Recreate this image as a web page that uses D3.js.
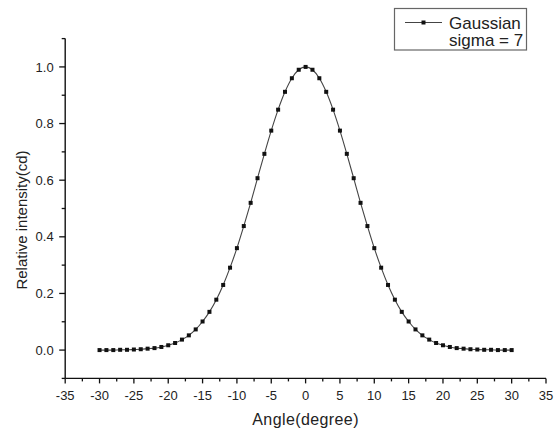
<!DOCTYPE html>
<html>
<head>
<meta charset="utf-8">
<script src="https://cdn.jsdelivr.net/npm/d3@7"></script>
<style>
  html, body { margin: 0; padding: 0; background: #fff; }
  svg { display: block; font-family: Arial, "Liberation Sans", sans-serif; }
</style>
</head>
<body>
<svg id="chart" width="554" height="431"></svg>
<script>
// ---- data ----
const angles = [-30,-29,-28,-27,-26,-25,-24,-23,-22,-21,-20,-19,-18,-17,-16,-15,-14,-13,-12,-11,-10,-9,-8,-7,-6,-5,-4,-3,-2,-1,
  0,1,2,3,4,5,6,7,8,9,10,11,12,13,14,15,16,17,18,19,20,21,22,23,24,25,26,27,28,29,30];
const intensity = [0.000,0.000,0.000,0.001,0.001,0.002,0.003,0.005,0.007,0.011,0.017,0.025,0.037,0.052,0.073,0.101,0.135,0.178,0.230,0.291,
  0.360,0.438,0.520,0.607,0.693,0.775,0.849,0.912,0.960,0.990,
  1.000,
  0.990,0.960,0.912,0.849,0.775,0.693,0.607,0.520,0.438,0.360,
  0.291,0.230,0.178,0.135,0.101,0.073,0.052,0.037,0.025,0.017,0.011,0.007,0.005,0.003,0.002,0.001,0.001,0.000,0.000,0.000];
const xTicks = [-35,-30,-25,-20,-15,-10,-5,0,5,10,15,20,25,30,35];
const yTicks = [0.0,0.2,0.4,0.6,0.8,1.0];
const seriesName = ["Gaussian", "sigma = 7"];
const xTitle = "Angle(degree)";
const yTitle = "Relative intensity(cd)";

const data = angles.map((a, i) => ({x: a, y: intensity[i]}));

// ---- layout ----
const svg = d3.select("#chart");
const x = d3.scaleLinear().domain([-35, 35]).range([65.2, 546]);
const y = d3.scaleLinear().domain([-0.1, 1.1]).range([378.4, 38.6]);

// x axis
const xMinor = d3.range(-35, 35.01, 2.5);
const gx = svg.append("g").attr("transform", `translate(0,${y(-0.1)})`);
gx.append("line").attr("x1", x(-35)).attr("x2", x(35)).attr("stroke", "#111").attr("stroke-width", 1.4);
gx.selectAll("line.minor").data(xMinor).join("line").attr("class", "minor")
  .attr("x1", d => x(d)).attr("x2", d => x(d)).attr("y1", 0)
  .attr("y2", d => (Math.abs(d % 5) < 1e-9 ? 5 : 3))
  .attr("stroke", "#111").attr("stroke-width", 1.3);
gx.selectAll("text").data(xTicks).join("text")
  .attr("x", d => x(d)).attr("y", 22)
  .attr("text-anchor", "middle").attr("font-size", 13).attr("fill", "#222")
  .text(d => d);

// y axis
const yMinor = d3.range(-0.1, 1.1001, 0.1).map(v => Math.round(v * 10) / 10);
const gy = svg.append("g").attr("transform", `translate(${x(-35)},0)`);
gy.append("line").attr("y1", y(-0.1)).attr("y2", y(1.1)).attr("stroke", "#111").attr("stroke-width", 1.4);
gy.selectAll("line.minor").data(yMinor).join("line").attr("class", "minor")
  .attr("y1", d => y(d)).attr("y2", d => y(d)).attr("x1", 0)
  .attr("x2", d => (Math.abs(Math.round(d * 10) % 2) === 0 ? -6 : -3.5))
  .attr("stroke", "#111").attr("stroke-width", 1.3);
gy.selectAll("text").data(yTicks).join("text")
  .attr("x", -11.5).attr("y", d => y(d) + 4.6)
  .attr("text-anchor", "end").attr("font-size", 13).attr("fill", "#222")
  .text(d => d.toFixed(1));

// titles
svg.append("text").attr("x", x(0)).attr("y", 425)
  .attr("text-anchor", "middle").attr("font-size", 16).attr("letter-spacing", 0.4)
  .attr("fill", "#222").text(xTitle);
svg.append("text").attr("transform", "translate(26.5,220) rotate(-90)")
  .attr("text-anchor", "middle").attr("font-size", 15).attr("fill", "#222").text(yTitle);

// series line
const line = d3.line().x(d => x(d.x)).y(d => y(d.y)).curve(d3.curveMonotoneX);
svg.append("path").datum(data).attr("d", line)
  .attr("fill", "none").attr("stroke", "#444").attr("stroke-width", 1.1);
svg.selectAll("rect.pt").data(data).join("rect").attr("class", "pt")
  .attr("x", d => x(d.x) - 2).attr("y", d => y(d.y) - 2)
  .attr("width", 4).attr("height", 4).attr("fill", "#111");

// legend
const lg = svg.append("g");
lg.append("rect").attr("x", 394.5).attr("y", 8.5).attr("width", 132).attr("height", 41.5)
  .attr("fill", "#fff").attr("stroke", "#666").attr("stroke-width", 1.2);
lg.append("line").attr("x1", 405).attr("x2", 442).attr("y1", 22.5).attr("y2", 22.5)
  .attr("stroke", "#444").attr("stroke-width", 1.1);
lg.append("rect").attr("x", 423.5 - 2).attr("y", 22.5 - 2).attr("width", 4).attr("height", 4).attr("fill", "#111");
lg.append("text").attr("x", 449).attr("y", 28.5).attr("font-size", 17).attr("fill", "#222").text(seriesName[0]);
lg.append("text").attr("x", 449).attr("y", 46).attr("font-size", 17).attr("fill", "#222").text(seriesName[1]);
</script>
</body>
</html>
